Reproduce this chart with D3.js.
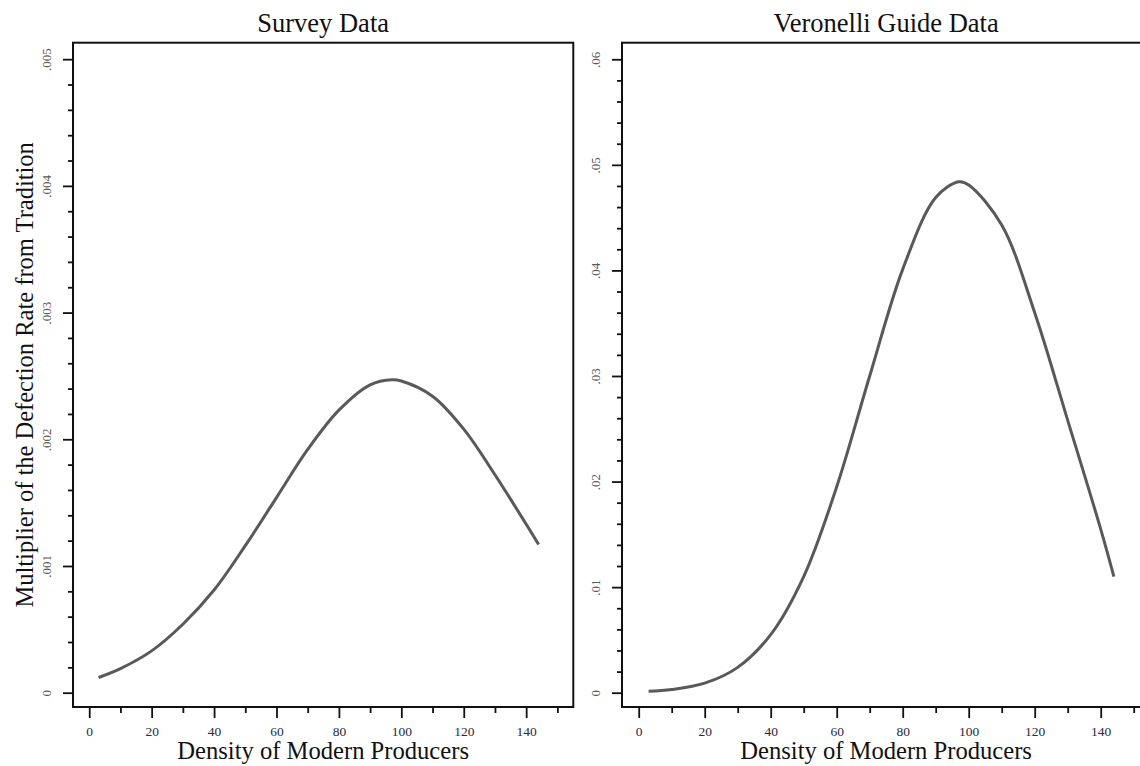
<!DOCTYPE html>
<html>
<head>
<meta charset="utf-8">
<script src="https://cdn.jsdelivr.net/npm/d3@7"></script>
<style>
 body { margin: 0; background: #fff; }
 svg { display: block; font-family: "Liberation Serif", "DejaVu Serif", serif; }
</style>
</head>
<body>
<div id="chart"></div>
<script>
// density of modern producers (x) and the estimated multiplier for each panel
const density = [3, 10, 20, 30, 40, 50, 60, 70, 80, 90, 97, 100, 110, 120, 130, 140, 144];
const surveyValues = [0.00012, 0.00019, 0.00033, 0.00054, 0.00081, 0.00116, 0.00154, 0.00192, 0.00223, 0.00243, 0.00247, 0.00246, 0.00234, 0.00208, 0.00172, 0.00133, 0.00117];
const veronelliValues = [0.00013, 0.0003, 0.0009, 0.0024, 0.0055, 0.011, 0.0195, 0.03, 0.0401, 0.0469, 0.0484, 0.0481, 0.0443, 0.036, 0.0258, 0.0155, 0.011];

const xMajor = [0, 20, 40, 60, 80, 100, 120, 140];
const xMinor = [10, 30, 50, 70, 90, 110, 130, 150];
const surveyTicks = [0, 0.001, 0.002, 0.003, 0.004, 0.005];
const surveyTickLabels = ["0", ".001", ".002", ".003", ".004", ".005"];
const veronelliTicks = [0, 0.01, 0.02, 0.03, 0.04, 0.05, 0.06];
const veronelliTickLabels = ["0", ".01", ".02", ".03", ".04", ".05", ".06"];

const panelTitles = ["Survey Data", "Veronelli Guide Data"];
const xTitle = "Density of Modern Producers";
const yTitle = "Multiplier of the Defection Rate from Tradition";

const width = 1140, height = 766;
const plotTop = 42.7, plotBottom = 707;

const svg = d3.select("#chart").append("svg")
 .attr("width", width)
 .attr("height", height);

const panels = [
 { left: 73, right: 573.3, xDomain: [-5.2, 155.1], yDomain: [-0.000113, 0.00513],
  values: surveyValues, ticks: surveyTicks, labels: surveyTickLabels, minorStep: 0.0002, yMax: 0.005 },
 { left: 622, right: 1150.2, xDomain: [-5.06, 155], yDomain: [-0.001355, 0.06157],
  values: veronelliValues, ticks: veronelliTicks, labels: veronelliTickLabels, minorStep: 0.002, yMax: 0.06 }
];

panels.forEach((p, i) => {
 const x = d3.scaleLinear().domain(p.xDomain).range([p.left, p.right]);
 const y = d3.scaleLinear().domain(p.yDomain).range([plotBottom, plotTop]);
 const g = svg.append("g");

 // minor y ticks between the labelled ones
 const yMinor = d3.range(p.minorStep, p.yMax, p.minorStep)
  .filter(v => !p.ticks.some(t => Math.abs(t - v) < p.minorStep / 10));

 const yAxisMinor = d3.axisLeft(y).tickValues(yMinor).tickSize(5).tickFormat("");
 g.append("g").attr("transform", `translate(${p.left},0)`).call(yAxisMinor);

 const yAxis = d3.axisLeft(y).tickValues(p.ticks).tickSize(10)
  .tickFormat((d, k) => p.labels[k]);
 const ya = g.append("g").attr("transform", `translate(${p.left},0)`).call(yAxis)
  .attr("font-family", null);
 ya.selectAll("text")
  .attr("transform", "rotate(-90)")
  .attr("x", 0)
  .attr("y", -22)
  .attr("dy", 0)
  .attr("text-anchor", "middle")
  .style("font-size", "13px")
  .style("fill", "#5a5a5a");

 const xAxisMinor = d3.axisBottom(x).tickValues(xMinor).tickSize(6).tickFormat("");
 g.append("g").attr("transform", `translate(0,${plotBottom})`).call(xAxisMinor);

 const xAxis = d3.axisBottom(x).tickValues(xMajor).tickSize(11);
 const xa = g.append("g").attr("transform", `translate(0,${plotBottom})`).call(xAxis)
  .attr("font-family", null);
 xa.selectAll("text")
  .attr("y", 29)
  .attr("dy", 0)
  .style("font-size", "13.5px")
  .style("fill", "#2a2a3a");

 g.selectAll(".domain").remove();
 g.selectAll(".tick line").attr("stroke", "#111").attr("stroke-width", 1.8);

 // plot frame
 g.append("rect")
  .attr("x", p.left)
  .attr("y", plotTop)
  .attr("width", p.right - p.left)
  .attr("height", plotBottom - plotTop)
  .attr("fill", "none")
  .attr("stroke", "#111")
  .attr("stroke-width", 2);

 const line = d3.line()
  .x((d, k) => x(density[k]))
  .y(d => y(d))
  .curve(d3.curveCatmullRom);

 g.append("path")
  .datum(p.values)
  .attr("d", line)
  .attr("fill", "none")
  .attr("stroke", "#595959")
  .attr("stroke-width", 3);

 const cx = (p.left + p.right) / 2;
 g.append("text")
  .attr("x", cx)
  .attr("y", 32)
  .attr("text-anchor", "middle")
  .style("font-size", "26.5px")
  .style("fill", "#111")
  .text(panelTitles[i]);

 g.append("text")
  .attr("x", cx)
  .attr("y", 759)
  .attr("text-anchor", "middle")
  .style("font-size", "24.6px")
  .style("fill", "#111")
  .text(xTitle);
});

svg.append("text")
 .attr("transform", `translate(33,${(plotTop + plotBottom) / 2}) rotate(-90)`)
 .attr("text-anchor", "middle")
 .style("font-size", "24.5px")
 .style("fill", "#111")
 .text(yTitle);
</script>
</body>
</html>
